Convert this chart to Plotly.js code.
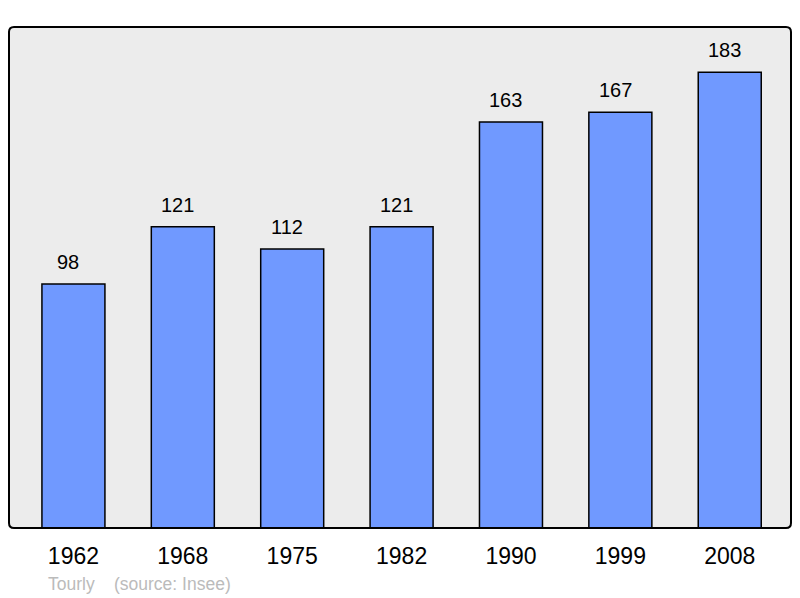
<!DOCTYPE html>
<html><head><meta charset="utf-8">
<script src="https://cdn.plot.ly/plotly-3.0.1.min.js"></script>
<style>html,body{margin:0;padding:0;background:#fff;}</style>
</head><body>
<div id="chart" style="width:800px;height:598px;"></div>
<script>
var years = ['1962','1968','1975','1982','1990','1999','2008'];
var population = [98,121,112,121,163,167,183];
var commune = 'Tourly';
var source = '(source: Insee)';

var idx = years.map(function(_,i){return i;});
var W = 800, H = 598, ml = 9, mr = 9, mt = 27, mb = 70;
var pw = W-ml-mr, ph = H-mt-mb;
var r = 5, rx = r/pw, ry = r/ph;
var framePath = 'M '+rx+' 0 L '+(1-rx)+' 0 Q 1 0 1 '+ry+' L 1 '+(1-ry)+' Q 1 1 '+(1-rx)+' 1 L '+rx+' 1 Q 0 1 0 '+(1-ry)+' L 0 '+ry+' Q 0 0 '+rx+' 0 Z';

var trace = {
  type:'bar', x: idx, y: population, width: 0.576,
  marker:{color:'#7099ff', line:{color:'#000', width:1.5}},
  hoverinfo:'none'
};
var ann = idx.map(function(i){
  return {x:i, y:population[i], xref:'x', yref:'y', text:String(population[i]),
    showarrow:false, yanchor:'bottom', yshift:9, xshift:-5,
    font:{family:'Liberation Sans, Arial, sans-serif', size:20, color:'#000'}};
});
ann.push({xref:'paper', yref:'paper', x:(46-ml)/pw, y:-(584-528)/ph, xanchor:'left', yanchor:'middle',
  text:commune, showarrow:false, font:{family:'Liberation Sans, Arial, sans-serif', size:17.5, color:'#bbbbbb'}});
ann.push({xref:'paper', yref:'paper', x:(112-ml)/pw, y:-(584-528)/ph, xanchor:'left', yanchor:'middle',
  text:source, showarrow:false, font:{family:'Liberation Sans, Arial, sans-serif', size:17.5, color:'#bbbbbb'}});

var layout = {
  width:W, height:H, margin:{l:ml, r:mr, t:mt, b:mb, pad:0},
  paper_bgcolor:'#fff', plot_bgcolor:'rgba(0,0,0,0)',
  showlegend:false,
  xaxis:{range:[-0.589, 6.56], tickmode:'array', tickvals:idx, ticktext:years,
    showgrid:false, zeroline:false, showline:false, ticks:'', ticklabelstandoff:12,
    tickfont:{family:'Liberation Sans, Arial, sans-serif', size:23, color:'#000'}, fixedrange:true},
  yaxis:{range:[0, 201.2], showgrid:false, zeroline:false, showline:false, showticklabels:false, ticks:'', fixedrange:true},
  shapes:[
    {type:'path', xref:'paper', yref:'paper', path:framePath, fillcolor:'#ececec', line:{width:0}, layer:'below'},
    {type:'path', xref:'paper', yref:'paper', path:framePath, fillcolor:'rgba(0,0,0,0)', line:{color:'#000', width:2}, layer:'above'}
  ],
  annotations: ann
};
Plotly.newPlot('chart', [trace], layout, {displayModeBar:false, staticPlot:true});
</script>
</body></html>
